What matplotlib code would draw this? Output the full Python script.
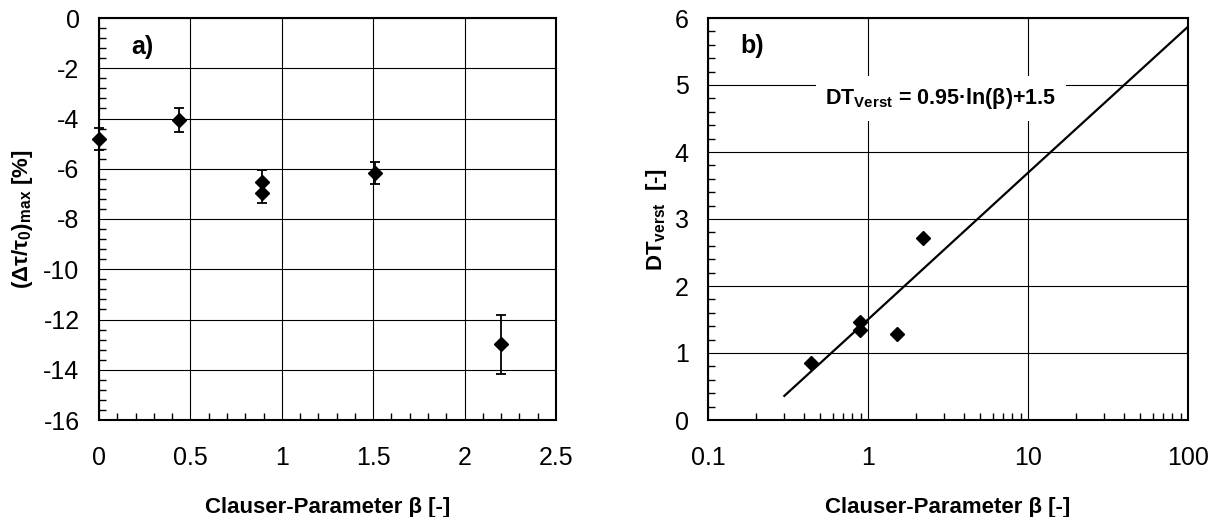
import numpy as np
import matplotlib
matplotlib.use("Agg")
import matplotlib.pyplot as plt
from matplotlib import font_manager
from matplotlib.ticker import MultipleLocator, LogLocator, FixedLocator, NullFormatter

# --- datos ---
# a) Clauser-Parameter vs (dtau/tau0)max
beta_a = [0.0, 0.44, 0.89, 0.89, 1.51, 2.20]
dtau_a = [-4.82, -4.05, -6.51, -6.97, -6.18, -12.99]
err_lo = [0.45, 0.47, 0.0, 0.40, 0.42, 1.18]
err_hi = [0.46, 0.46, 0.47, 0.0, 0.43, 1.17]

# b) Clauser-Parameter vs DT_verst
beta_b = [0.44, 0.897, 0.897, 1.52, 2.2]
dt_b = [0.85, 1.47, 1.34, 1.29, 2.71]
fit_x = [0.3, 1.0, 10.0, 100.0]
fit_y = [0.36, 1.50, 3.69, 5.87]

x_ticks_a = [0, 0.5, 1, 1.5, 2, 2.5]
y_ticks_a = [0, -2, -4, -6, -8, -10, -12, -14, -16]
x_ticks_b = [0.1, 1, 10, 100]
x_labels_b = ["0.1", "1", "10", "100"]
y_ticks_b = [0, 1, 2, 3, 4, 5, 6]

# --- fuentes ---
nombres = {f.name for f in font_manager.fontManager.ttflist}
narrow = "Liberation Sans Narrow" if "Liberation Sans Narrow" in nombres else "Liberation Sans"

plt.rcParams["font.family"] = ["Liberation Sans", "DejaVu Sans"]
plt.rcParams["mathtext.fontset"] = "custom"
plt.rcParams["mathtext.rm"] = narrow + ":bold"
plt.rcParams["mathtext.it"] = narrow + ":bold"
plt.rcParams["mathtext.bf"] = narrow + ":bold"

lab_font = dict(family=[narrow, "DejaVu Sans"], weight="bold", size=16)

fig = plt.figure(figsize=(12.15, 5.17), dpi=100)
ax1 = fig.add_axes([99 / 1215, 1 - 420 / 517, (556 - 99) / 1215, (420 - 18) / 517])
ax2 = fig.add_axes([708 / 1215, 1 - 420 / 517, (1188 - 708) / 1215, (420 - 18) / 517])


def estilo(ax):
    for s in ax.spines.values():
        s.set_linewidth(1.5)
    ax.grid(True, which="major", color="black", linewidth=0.8)
    ax.tick_params(which="both", direction="in", top=False, right=False, labelsize=18)
    ax.tick_params(which="major", length=0)
    ax.tick_params(which="minor", length=5, width=1.0)
    ax.tick_params(axis="x", which="both", pad=19)
    ax.tick_params(axis="y", which="both", pad=14)
    ax.set_axisbelow(True)


# --- a) ---
ax1.errorbar(beta_a, dtau_a, yerr=[err_lo, err_hi], fmt="D", color="black",
             markersize=7, capsize=3.5, elinewidth=1.3, capthick=1.3, clip_on=False, zorder=3)
ax1.set_xlim(0, 2.5)
ax1.set_ylim(-16, 0)
ax1.set_xticks(x_ticks_a)
ax1.set_yticks(y_ticks_a)
ax1.set_xticklabels([f"{v:g}" for v in x_ticks_a])
ax1.set_yticklabels([f"{v:g}" for v in y_ticks_a])
ax1.xaxis.set_minor_locator(MultipleLocator(0.1))
ax1.yaxis.set_minor_locator(MultipleLocator(0.4))
estilo(ax1)
ax1.set_xlabel("Clauser-Parameter β [-]", fontdict=lab_font, labelpad=19)
ax1.set_ylabel(r"(Δτ/τ$_\mathrm{0}$)$_\mathrm{max}$ [%]", fontdict=lab_font, labelpad=6)
ax1.text(0.07, 0.928, "a)", transform=ax1.transAxes, fontsize=18, fontweight="bold",
         family=[narrow, "DejaVu Sans"], va="center", ha="left")

# --- b) ---
ax2.set_xscale("log")
ax2.plot(fit_x, fit_y, color="black", linewidth=1.6, zorder=3)
ax2.plot(beta_b, dt_b, "D", color="black", markersize=7.5, zorder=4)
ax2.set_xlim(0.1, 100)
ax2.set_ylim(0, 6)
ax2.xaxis.set_major_locator(FixedLocator(x_ticks_b))
ax2.set_xticklabels(x_labels_b)
ax2.set_yticks(y_ticks_b)
ax2.xaxis.set_minor_locator(LogLocator(base=10, subs=np.arange(2, 10)))
ax2.xaxis.set_minor_formatter(NullFormatter())
ax2.yaxis.set_minor_locator(MultipleLocator(0.2))
estilo(ax2)
ax2.set_xlabel("Clauser-Parameter β [-]", fontdict=lab_font, labelpad=19)
ax2.set_ylabel(r"DT$_\mathrm{verst}$  [-]", fontdict=lab_font, labelpad=4)
ax2.text(0.067, 0.93, "b)", transform=ax2.transAxes, fontsize=18, fontweight="bold",
         family=[narrow, "DejaVu Sans"], va="center", ha="left")
ax2.text(0.485, 0.80, r"DT$_\mathrm{Verst}$ = 0.95·ln(β)+1.5", transform=ax2.transAxes,
         fontsize=15.5, fontweight="bold", family=[narrow, "DejaVu Sans"],
         ha="center", va="center", zorder=5,
         bbox=dict(boxstyle="square,pad=0.45", facecolor="white", edgecolor="none"))

fig.savefig("out.png", dpi=100)
